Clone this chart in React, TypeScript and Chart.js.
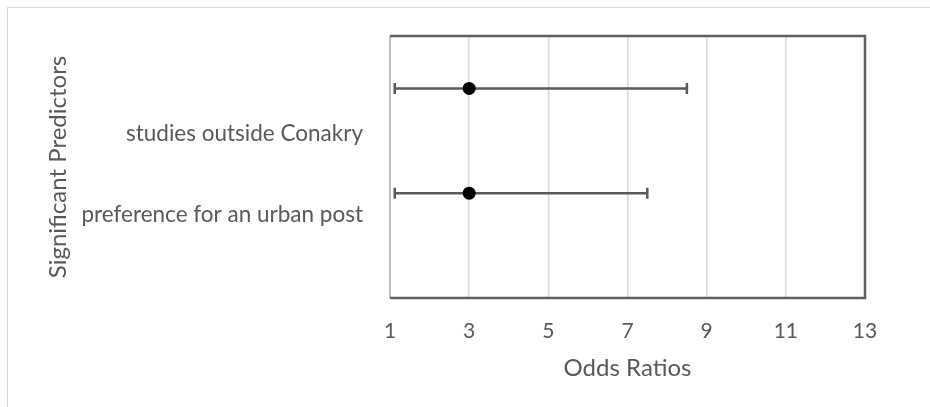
import { useEffect, useRef } from "react";
import { Chart, registerables } from "chart.js";

Chart.register(...registerables);

// Odds ratios with 95% confidence intervals for the significant predictors
const predictors = ["studies outside Conakry", "preference for an urban post"];
const rowValues = [2, 1];
const oddsRatios = [3, 3];
const lowerCI = [1.12, 1.12];
const upperCI = [8.5, 7.5];
const predictorTickValues = [1.57, 0.79];
const xTickValues = [1, 3, 5, 7, 9, 11, 13];

const FONT = "Lato, 'Open Sans', sans-serif";
const TEXT = "#595959";

const forestPlugin = {
  id: "forestFrameAndIntervals",
  beforeDatasetsDraw(chart: any) {
    const { ctx, chartArea: a, scales } = chart;
    const xs = scales.x;
    const ys = scales.y;
    ctx.save();
    // plot frame
    ctx.lineWidth = 2;
    ctx.strokeStyle = "#bfbfbf";
    ctx.beginPath();
    ctx.moveTo(a.left, a.top);
    ctx.lineTo(a.left, a.bottom);
    ctx.stroke();
    ctx.lineWidth = 2.5;
    ctx.strokeStyle = "#5f5f5f";
    ctx.beginPath();
    ctx.moveTo(a.left, a.top);
    ctx.lineTo(a.right, a.top);
    ctx.lineTo(a.right, a.bottom);
    ctx.lineTo(a.left, a.bottom);
    ctx.stroke();
    // confidence intervals
    ctx.strokeStyle = "#595959";
    ctx.lineWidth = 2.5;
    predictors.forEach((_, i) => {
      const py = ys.getPixelForValue(rowValues[i]);
      const x0 = xs.getPixelForValue(lowerCI[i]);
      const x1 = xs.getPixelForValue(upperCI[i]);
      ctx.beginPath();
      ctx.moveTo(x0, py);
      ctx.lineTo(x1, py);
      ctx.moveTo(x0, py - 5.5);
      ctx.lineTo(x0, py + 5.5);
      ctx.moveTo(x1, py - 5.5);
      ctx.lineTo(x1, py + 5.5);
      ctx.stroke();
    });
    ctx.restore();
  },
};

export default function App() {
  const canvasRef = useRef<HTMLCanvasElement | null>(null);

  useEffect(() => {
    if (!canvasRef.current) return;
    const chart = new Chart(canvasRef.current, {
      type: "scatter",
      data: {
        datasets: [
          {
            label: "Odds ratio",
            data: predictors.map((_, i) => ({ x: oddsRatios[i], y: rowValues[i] })),
            backgroundColor: "#000000",
            borderWidth: 0,
            pointRadius: 6.5,
          },
        ],
      },
      options: {
        responsive: false,
        animation: false,
        events: [],
        layout: { padding: { left: 0, top: 36, right: 65, bottom: 0 } },
        plugins: { legend: { display: false }, tooltip: { enabled: false } },
        scales: {
          x: {
            type: "linear",
            min: 1,
            max: 13,
            afterFit: (s: any) => {
              s.height = 109;
            },
            afterBuildTicks: (s: any) => {
              s.ticks = xTickValues.map((v) => ({ value: v }));
            },
            border: { display: false },
            grid: { color: "#d9d9d9", lineWidth: 1.5, drawTicks: false },
            ticks: {
              color: TEXT,
              padding: 21,
              font: { family: FONT, size: 21 },
            },
            title: {
              display: true,
              text: "Odds Ratios",
              color: TEXT,
              font: { family: FONT, size: 24 },
              padding: { top: 0, bottom: 24 },
            },
          },
          y: {
            type: "linear",
            min: 0,
            max: 2.5,
            afterFit: (s: any) => {
              s.width = 390;
              s.paddingTop = 0;
              s.paddingBottom = 0;
            },
            afterBuildTicks: (s: any) => {
              s.ticks = predictorTickValues.map((v) => ({ value: v }));
            },
            border: { display: false },
            grid: { display: false, drawTicks: false },
            ticks: {
              color: TEXT,
              padding: 27,
              font: { family: FONT, size: 22.5 },
              callback: (value: any) => {
                const i = predictorTickValues.indexOf(Number(value));
                return i >= 0 ? predictors[i] : "";
              },
            },
            title: {
              display: true,
              text: "Significant Predictors",
              color: TEXT,
              font: { family: FONT, size: 24 },
              padding: { top: 44, bottom: 0 },
            },
          },
        },
      },
      plugins: [forestPlugin],
    });
    return () => chart.destroy();
  }, []);

  return (
    <div
      style={{
        position: "fixed",
        left: 0,
        top: 0,
        width: 930,
        height: 407,
        overflow: "hidden",
        background: "#ffffff",
      }}
    >
      <div
        style={{
          position: "absolute",
          left: 7,
          top: 7,
          width: 1000,
          height: 500,
          border: "1.5px solid #d9d9d9",
        }}
      />
      <canvas
        ref={canvasRef}
        width={930}
        height={407}
        style={{ position: "absolute", left: 0, top: 0 }}
      />
    </div>
  );
}
